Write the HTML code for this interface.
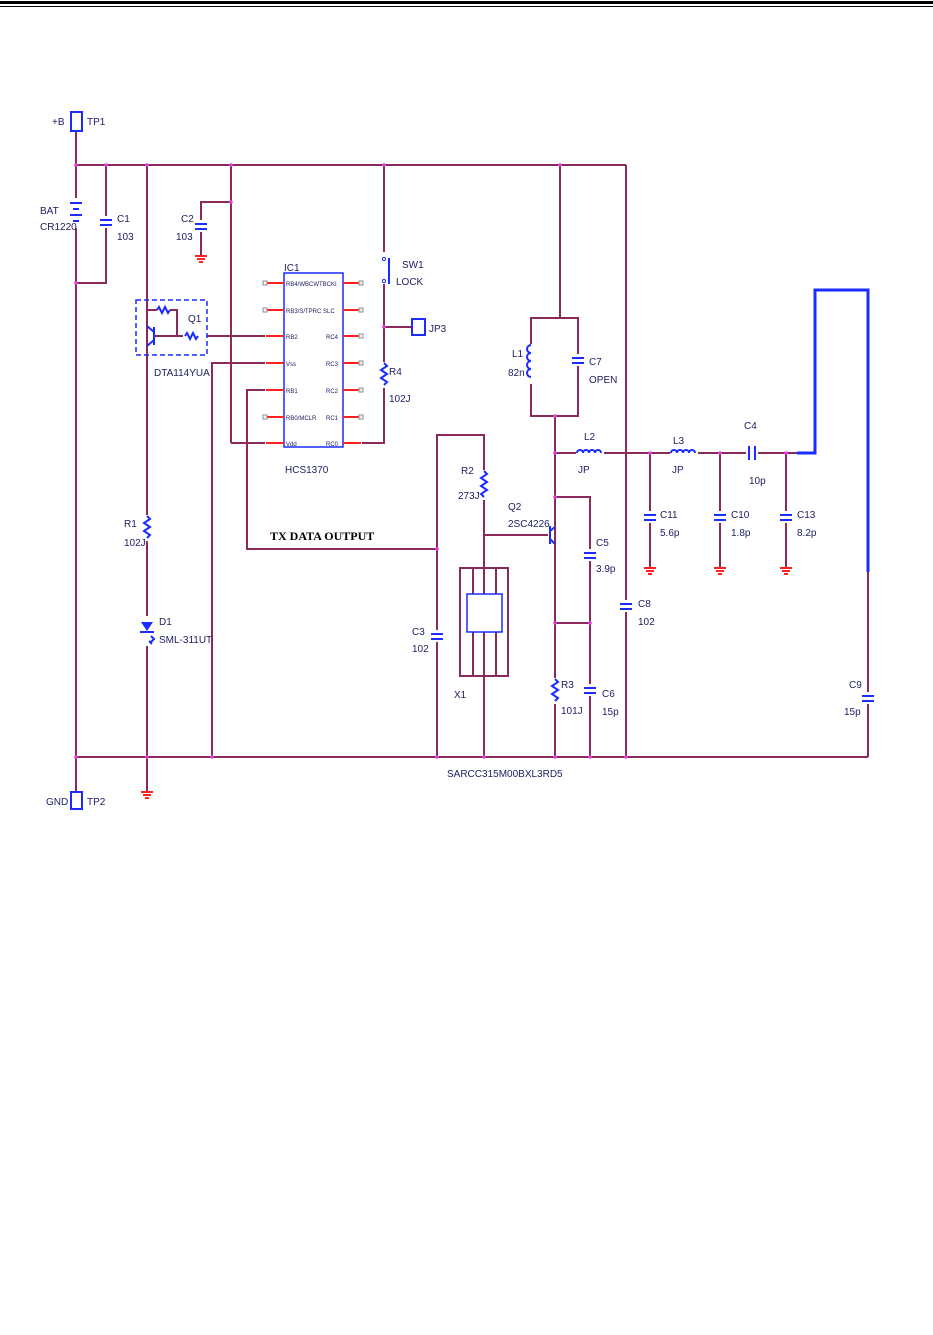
<!DOCTYPE html>
<html><head><meta charset="utf-8"><style>
html,body{margin:0;padding:0;background:#fff;}
svg{display:block;}
text{font-family:"Liberation Sans",sans-serif;font-size:10px;fill:#202060;}
.w{stroke:#8a2a5a;stroke-width:2;fill:none;}
.b{stroke:#1a2cff;stroke-width:2;fill:none;}
.r{stroke:#ff2020;stroke-width:2;fill:none;}
.d{fill:#e040e0;}
</style></head><body>
<svg width="933" height="1335" viewBox="0 0 933 1335" xmlns="http://www.w3.org/2000/svg">
<!-- header lines -->
<rect x="0" y="1" width="933" height="3" fill="#000"/>
<rect x="0" y="6" width="933" height="1" fill="#000"/>

<!-- main wires -->
<g class="w">
<polyline points="76,131 76,791"/>
<line x1="76" y1="165" x2="626" y2="165"/>
<line x1="626" y1="165" x2="626" y2="757"/>
<line x1="76" y1="757" x2="868" y2="757"/>
<polyline points="106,165 106,283 76,283"/>
<line x1="147" y1="165" x2="147" y2="792"/>
<line x1="231" y1="165" x2="231" y2="443"/>
<line x1="231" y1="443" x2="265" y2="443"/>
<polyline points="231,202 201,202 201,255"/>
<polyline points="212,757 212,363 265,363"/>
<polyline points="265,390 247,390 247,549 437,549"/>
<polyline points="384,165 384,443 362,443"/>
<line x1="384" y1="327" x2="412" y2="327"/>
<line x1="207" y1="336" x2="265" y2="336"/>
<polyline points="437,757 437,435 484,435 484,757"/>
<line x1="484" y1="535" x2="548" y2="535"/>
<line x1="560" y1="165" x2="560" y2="318"/>
<rect x="531" y="318" width="47" height="98"/>
<line x1="555" y1="416" x2="555" y2="757"/>
<polyline points="555,497 590,497 590,757"/>
<line x1="555" y1="623" x2="590" y2="623"/>
<line x1="555" y1="453" x2="797" y2="453"/>
<line x1="650" y1="453" x2="650" y2="568"/>
<line x1="720" y1="453" x2="720" y2="568"/>
<line x1="786" y1="453" x2="786" y2="568"/>
<line x1="868" y1="572" x2="868" y2="757"/>
<!-- crystal -->
<rect x="460" y="568" width="48" height="108"/>
<line x1="473" y1="568" x2="473" y2="676"/>
<line x1="496" y1="568" x2="496" y2="676"/>
</g>

<!-- junction dots -->
<g class="d">
<circle cx="76" cy="165" r="1.8"/><circle cx="106" cy="165" r="1.8"/><circle cx="147" cy="165" r="1.8"/><circle cx="231" cy="165" r="1.8"/><circle cx="384" cy="165" r="1.8"/><circle cx="560" cy="165" r="1.8"/>
<circle cx="76" cy="283" r="1.8"/><circle cx="231" cy="202" r="1.8"/><circle cx="384" cy="327" r="1.8"/>
<circle cx="76" cy="757" r="1.8"/><circle cx="147" cy="757" r="1.8"/><circle cx="212" cy="757" r="1.8"/><circle cx="437" cy="757" r="1.8"/><circle cx="484" cy="757" r="1.8"/><circle cx="555" cy="757" r="1.8"/><circle cx="590" cy="757" r="1.8"/><circle cx="626" cy="757" r="1.8"/>
<circle cx="437" cy="549" r="1.8"/><circle cx="555" cy="416" r="1.8"/><circle cx="555" cy="453" r="1.8"/><circle cx="555" cy="497" r="1.8"/><circle cx="555" cy="623" r="1.8"/><circle cx="590" cy="623" r="1.8"/>
<circle cx="650" cy="453" r="1.8"/><circle cx="720" cy="453" r="1.8"/><circle cx="786" cy="453" r="1.8"/>
</g>

<!-- test points -->
<g class="b" stroke-width="1.5">
<rect x="71" y="112" width="11" height="19"/>
<rect x="71" y="792" width="11" height="17"/>
<rect x="412" y="319" width="13" height="16"/>
</g>
<text x="52" y="125">+B</text><text x="87" y="125">TP1</text>
<text x="46" y="805">GND</text><text x="87" y="805">TP2</text>
<text x="429" y="332">JP3</text>

<!-- battery -->
<rect x="70" y="198" width="12" height="30" fill="#fff"/>
<g class="b"><line x1="70" y1="203" x2="82" y2="203"/><line x1="73" y1="209" x2="79" y2="209"/><line x1="70" y1="215" x2="82" y2="215"/><line x1="73" y1="221" x2="79" y2="221"/></g>
<text x="40" y="214">BAT</text><text x="40" y="230">CR1220</text>

<!-- capacitors (vertical) -->
<g fill="#fff">
<rect x="98" y="216" width="16" height="12"/><rect x="193" y="220" width="16" height="12"/>
<rect x="429" y="630" width="16" height="12"/><rect x="570" y="354" width="16" height="12"/>
<rect x="582" y="549" width="16" height="12"/><rect x="582" y="684" width="16" height="12"/>
<rect x="618" y="600" width="16" height="12"/><rect x="642" y="511" width="16" height="12"/>
<rect x="712" y="511" width="16" height="12"/><rect x="778" y="511" width="16" height="12"/>
<rect x="860" y="692" width="16" height="12"/>
</g>
<g class="b">
<path d="M100 220h12M100 225h12"/><path d="M195 224h12M195 229h12"/>
<path d="M431 634h12M431 639h12"/><path d="M572 358h12M572 363h12"/>
<path d="M584 553h12M584 558h12"/><path d="M584 688h12M584 693h12"/>
<path d="M620 604h12M620 609h12"/><path d="M644 515h12M644 520h12"/>
<path d="M714 515h12M714 520h12"/><path d="M780 515h12M780 520h12"/>
<path d="M862 696h12M862 701h12"/>
</g>
<text x="117" y="222">C1</text><text x="117" y="240">103</text>
<text x="181" y="222">C2</text><text x="176" y="240">103</text>
<text x="412" y="635">C3</text><text x="412" y="652">102</text>
<text x="589" y="365">C7</text><text x="589" y="383">OPEN</text>
<text x="596" y="546">C5</text><text x="596" y="572">3.9p</text>
<text x="602" y="697">C6</text><text x="602" y="715">15p</text>
<text x="638" y="607">C8</text><text x="638" y="625">102</text>
<text x="660" y="518">C11</text><text x="660" y="536">5.6p</text>
<text x="731" y="518">C10</text><text x="731" y="536">1.8p</text>
<text x="797" y="518">C13</text><text x="797" y="536">8.2p</text>
<text x="849" y="688">C9</text><text x="844" y="715">15p</text>

<!-- C4 series -->
<rect x="746" y="445" width="12" height="16" fill="#fff"/>
<path class="b" d="M749 446v14M755 446v14"/>
<text x="744" y="429">C4</text><text x="749" y="484">10p</text>

<!-- grounds -->
<g class="r" stroke-width="1.5">
<path d="M195 256h12M197 259h8M199 262h4"/>
<path d="M141 792h12M143 795h8M145 798h4"/>
<path d="M644 568h12M646 571h8M648 574h4"/>
<path d="M714 568h12M716 571h8M718 574h4"/>
<path d="M780 568h12M782 571h8M784 574h4"/>
</g>

<!-- inductors -->
<rect x="576" y="447" width="28" height="12" fill="#fff"/>
<path class="b" stroke-width="1.5" d="M577 453a3 3 0 0 1 6 0a3 3 0 0 1 6 0a3 3 0 0 1 6 0a3 3 0 0 1 6 0"/>
<rect x="670" y="447" width="28" height="12" fill="#fff"/>
<path class="b" stroke-width="1.5" d="M671 453a3 3 0 0 1 6 0a3 3 0 0 1 6 0a3 3 0 0 1 6 0a3 3 0 0 1 6 0"/>
<text x="584" y="440">L2</text><text x="578" y="473">JP</text>
<text x="673" y="444">L3</text><text x="672" y="473">JP</text>
<rect x="525" y="344" width="12" height="40" fill="#fff"/>
<path class="b" stroke-width="1.5" d="M531 345a3 3 0 0 0 0 8a3 3 0 0 0 0 8a3 3 0 0 0 0 8a3 3 0 0 0 0 8"/>
<text x="512" y="357">L1</text><text x="508" y="376">82n</text>

<!-- resistors -->
<rect x="378" y="362" width="12" height="26" fill="#fff"/>
<path class="b" stroke-width="1.3" d="M384 363l3 3-6 4 6 4-6 4 6 4-3 3"/>
<text x="389" y="375">R4</text><text x="389" y="402">102J</text>
<rect x="141" y="515" width="12" height="26" fill="#fff"/>
<path class="b" stroke-width="1.3" d="M147 516l3 3-6 4 6 4-6 4 6 4-3 3"/>
<text x="124" y="527">R1</text><text x="124" y="546">102J</text>
<rect x="478" y="470" width="12" height="30" fill="#fff"/>
<path class="b" stroke-width="1.3" d="M484 471l3 3-6 4 6 4-6 4 6 4-6 4 3 3"/>
<text x="461" y="474">R2</text><text x="458" y="499">273J</text>
<rect x="549" y="678" width="12" height="26" fill="#fff"/>
<path class="b" stroke-width="1.3" d="M555 679l3 3-6 4 6 4-6 4 6 4-3 3"/>
<text x="561" y="688">R3</text><text x="561" y="714">101J</text>

<!-- D1 -->
<rect x="139" y="616" width="16" height="30" fill="#fff"/>
<path d="M141 622h12l-6 9z" fill="#1a2cff"/>
<path class="b" d="M140 632h14"/>
<path class="b" stroke-width="1" d="M151 636l3 3-3 3M149 641l3 3"/>
<text x="159" y="625">D1</text><text x="159" y="643">SML-311UT</text>

<!-- SW1 -->
<rect x="378" y="252" width="14" height="32" fill="#fff"/>
<path class="b" stroke-width="1.5" d="M389 258v26"/>
<circle cx="384" cy="259" r="1.6" fill="none" stroke="#1a2cff"/><circle cx="384" cy="281" r="1.6" fill="none" stroke="#1a2cff"/>
<text x="402" y="268">SW1</text><text x="396" y="285">LOCK</text>

<!-- Q1 -->
<rect x="136" y="300" width="71" height="55" fill="none" stroke="#1a2cff" stroke-width="1.5" stroke-dasharray="5,3"/>
<g class="w"><polyline points="147,310 157,310"/><polyline points="170,310 177,310 177,336 183,336"/><line x1="155" y1="336" x2="177" y2="336"/></g>
<rect x="146" y="305" width="60" height="40" fill="none"/>
<path class="b" stroke-width="1.3" d="M157 310l2-3 3 6 3-6 3 6 2-3M185 336l2-3 3 6 3-6 3 6 2-3"/>
<path class="b" stroke-width="1.5" d="M154 327v18M154 332l-7-6M154 340l-7 6"/>
<text x="188" y="322">Q1</text><text x="154" y="376">DTA114YUA</text>

<!-- IC -->
<rect x="284" y="273" width="59" height="174" fill="#fff" stroke="#1a2cff" stroke-width="1.5"/>
<g class="r" stroke-width="1.5">
<path d="M266 283h18M266 310h18M266 336h18M266 363h18M266 390h18M266 417h18M266 443h18"/>
<path d="M343 283h18M343 310h18M343 336h18M343 363h18M343 390h18M343 417h18M343 443h18"/>
</g>
<g fill="#fff" stroke="#888" stroke-width="1">
<rect x="263" y="281" width="4" height="4"/><rect x="263" y="308" width="4" height="4"/><rect x="263" y="415" width="4" height="4"/>
<rect x="359" y="281" width="4" height="4"/><rect x="359" y="308" width="4" height="4"/><rect x="359" y="334" width="4" height="4"/><rect x="359" y="361" width="4" height="4"/><rect x="359" y="388" width="4" height="4"/><rect x="359" y="415" width="4" height="4"/>
</g>
<g style="font-size:6px">
<text x="286" y="286" style="font-size:6px">RB4/WBCWTBCKI</text><text x="286" y="313" style="font-size:6px">RB3/S/TPRC SLC</text>
<text x="286" y="339" style="font-size:6px">RB2</text><text x="286" y="366" style="font-size:6px">Vss</text>
<text x="286" y="393" style="font-size:6px">RB1</text><text x="286" y="420" style="font-size:6px">RB0/MCLR</text>
<text x="286" y="446" style="font-size:6px">Vdd</text>
<text x="326" y="286" style="font-size:6px">  </text>
<text x="326" y="339" style="font-size:6px">RC4</text><text x="326" y="366" style="font-size:6px">RC3</text>
<text x="326" y="393" style="font-size:6px">RC2</text><text x="326" y="420" style="font-size:6px">RC1</text><text x="326" y="446" style="font-size:6px">RC0</text>
</g>
<text x="284" y="271">IC1</text>
<text x="285" y="473">HCS1370</text>

<!-- Q2 -->
<path class="b" stroke-width="1.5" d="M550 526v18M550 531l5-4M550 539l5 5"/>
<text x="508" y="510">Q2</text><text x="508" y="527">2SC4226</text>

<!-- crystal inner -->
<rect x="467" y="594" width="35" height="38" fill="#fff" stroke="#1a2cff" stroke-width="1.5"/>
<text x="454" y="698">X1</text>
<text x="447" y="777">SARCC315M00BXL3RD5</text>

<!-- antenna -->
<polyline points="797,453 815,453 815,290 868,290 868,572" fill="none" stroke="#1a2cff" stroke-width="3"/>

<text x="270" y="540" style="font-family:'Liberation Serif',serif;font-weight:bold;font-size:12px;fill:#000">TX DATA OUTPUT</text>
</svg>
</body></html>
